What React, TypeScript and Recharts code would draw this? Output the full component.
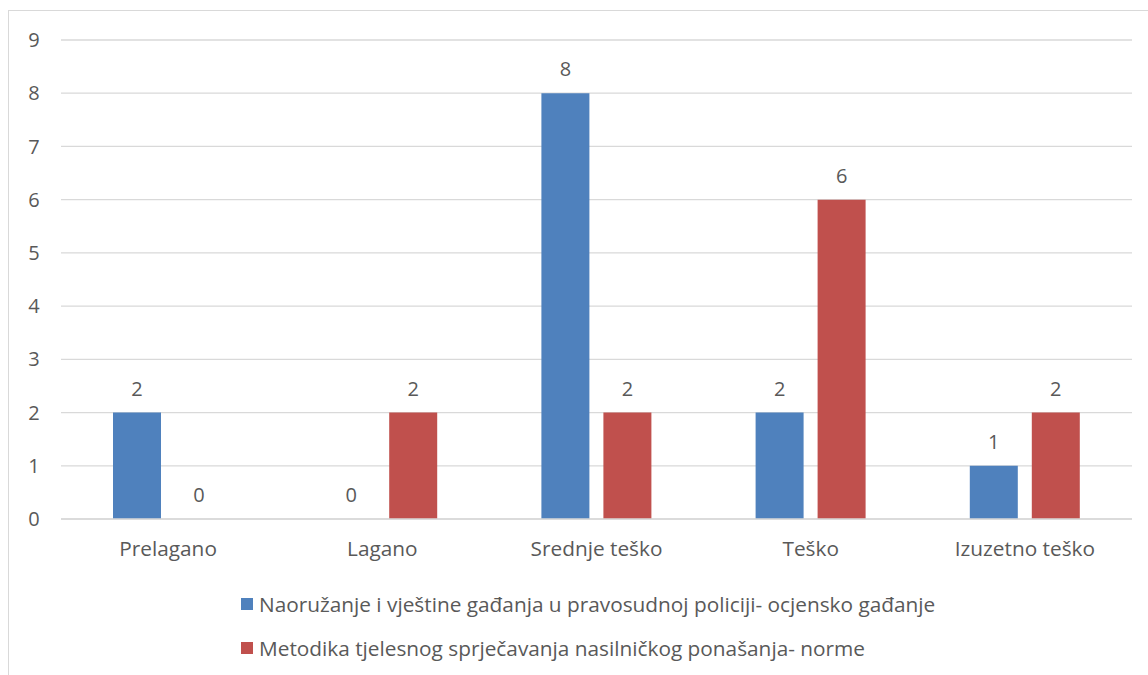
import { BarChart, Bar, XAxis, YAxis, CartesianGrid, LabelList } from "recharts"

const categories = ["Prelagano", "Lagano", "Srednje teško", "Teško", "Izuzetno teško"]
const naoruzanje = [2, 0, 8, 2, 1]
const metodika = [0, 2, 2, 6, 2]
const yTicks = [0, 1, 2, 3, 4, 5, 6, 7, 8, 9]

const seriesNames = [
  "Naoružanje i vještine gađanja u pravosudnoj policiji- ocjensko gađanje",
  "Metodika tjelesnog sprječavanja nasilničkog ponašanja- norme",
]
const seriesColors = ["#4f81bd", "#c0504d"]

const data = categories.map((c, i) => ({ name: c, a: naoruzanje[i], b: metodika[i] }))

const FONT = "'Open Sans', sans-serif"
const TEXT = "#595959"

if (typeof document !== "undefined") document.body.style.overflow = "hidden"

export default function App() {
  return (
    <div
      style={{
        position: "absolute",
        left: 8,
        top: 10,
        width: 1170,
        height: 700,
        border: "1px solid #d9d9d9",
        background: "#fff",
        fontFamily: FONT,
      }}
    >
      <BarChart
        width={1140}
        height={560}
        data={data}
        margin={{ top: 29, right: 17, left: 0, bottom: 0 }}
        barGap={14}
        barSize={48}
      >
        <CartesianGrid vertical={false} stroke="#d9d9d9" strokeWidth={1.3} />
        <XAxis
          dataKey="name"
          height={52}
          axisLine={{ stroke: "#d9d9d9", strokeWidth: 1.3 }}
          tickLine={false}
          tick={{ fontSize: 20.8, fill: TEXT, fontFamily: FONT }}
          tickMargin={16}
        />
        <YAxis
          width={52}
          domain={[0, 9]}
          ticks={yTicks}
          axisLine={false}
          tickLine={false}
          tick={{ fontSize: 20, fill: TEXT, fontFamily: FONT, textAnchor: "middle", dx: -19 }}
          interval={0}
        />
        <Bar dataKey="a" fill={seriesColors[0]} minPointSize={0.01} isAnimationActive={false}>
          <LabelList dataKey="a" position="top" offset={17} fill={TEXT} fontSize={20} fontFamily={FONT} />
        </Bar>
        <Bar dataKey="b" fill={seriesColors[1]} minPointSize={0.01} isAnimationActive={false}>
          <LabelList dataKey="b" position="top" offset={17} fill={TEXT} fontSize={20} fontFamily={FONT} />
        </Bar>
      </BarChart>
      <div style={{ paddingTop: 11, paddingLeft: 232 }}>
        {seriesNames.map((n, i) => (
          <div key={n} style={{ display: "flex", alignItems: "center", height: 44, color: TEXT, fontSize: 20.8 }}>
            <span style={{ width: 12, height: 12, background: seriesColors[i], marginRight: 6, display: "inline-block", flexShrink: 0 }} />
            {n}
          </div>
        ))}
      </div>
    </div>
  )
}
